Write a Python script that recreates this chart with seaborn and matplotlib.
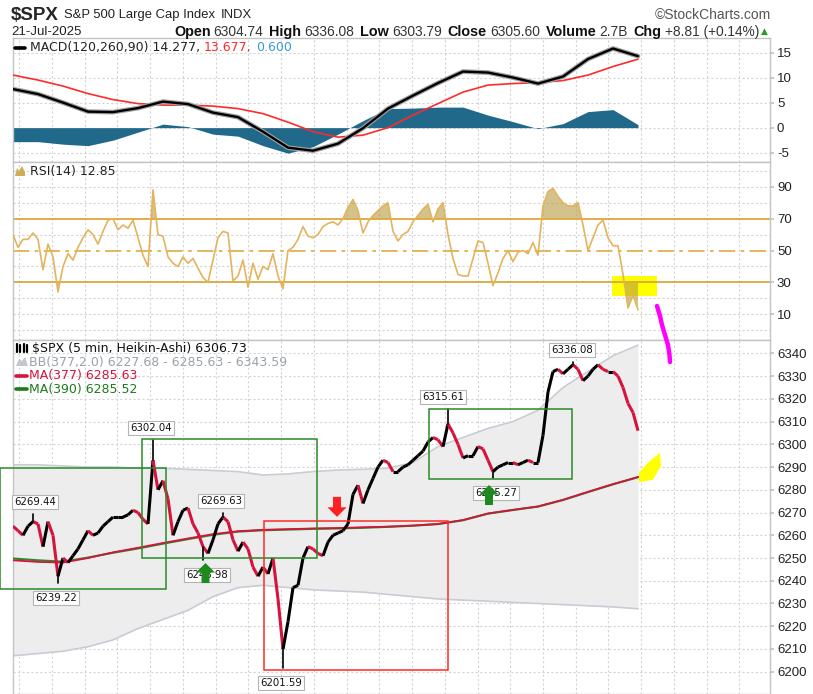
import numpy as np
import matplotlib
matplotlib.use("Agg")
import matplotlib.pyplot as plt
import seaborn as sns
import matplotlib.patheffects as pe
from matplotlib.collections import LineCollection
from matplotlib.patches import Rectangle, Polygon, FancyArrow

# ==================== DATA ====================
# 5-min Heikin-Ashi closes, one value every ~5 px of the original chart
close = [6264, 6262, 6260, 6264, 6266, 6265, 6255, 6266, 6260, 6242,
         6250, 6248, 6251, 6254, 6258, 6262, 6260, 6261, 6264, 6266,
         6268, 6268, 6268, 6269, 6271, 6270, 6267, 6265, 6293, 6280,
         6284, 6276, 6260, 6266, 6271, 6272, 6265, 6261, 6255, 6252,
         6258, 6265, 6268, 6266, 6258, 6253, 6257, 6254, 6246, 6242,
         6246, 6243, 6250, 6232, 6210, 6222, 6237, 6238, 6250, 6255,
         6254, 6252, 6251, 6257, 6260, 6261, 6262, 6265, 6278, 6282,
         6274, 6280, 6285, 6290, 6293, 6292, 6288, 6288, 6290, 6291,
         6293, 6295, 6297, 6301, 6303, 6302, 6299, 6309, 6305, 6300,
         6294, 6295, 6295, 6299, 6298, 6293, 6288, 6290, 6291, 6292,
         6292, 6291, 6292, 6293, 6292, 6292, 6304, 6323, 6332, 6333,
         6331, 6333, 6335, 6333, 6328, 6330, 6333, 6335, 6333, 6332,
         6332, 6330, 6325, 6318, 6314, 6306]

rsi = [60, 52, 57, 57, 61, 57, 38, 54, 46, 24,
       40, 48, 44, 52, 58, 63, 60, 54, 62, 69,
       70, 63, 66, 64, 69, 58, 47, 40, 88, 60,
       59, 46, 42, 40, 46, 42, 45, 39, 33, 30,
       44, 58, 62, 61, 31, 34, 44, 27, 42, 32,
       40, 38, 48, 34, 26, 50, 52, 57, 65, 59,
       58, 60, 65, 67, 68, 66, 70, 77, 82, 75,
       61, 68, 72, 75, 78, 80, 62, 56, 60, 62,
       68, 72, 76, 79, 68, 76, 80, 60, 45, 35,
       34, 34, 45, 56, 55, 42, 28, 36, 45, 50,
       43, 49, 50, 48, 55, 47, 78, 87, 89, 84,
       80, 78, 78, 80, 66, 50, 58, 66, 69, 58,
       53, 53, 35, 14, 22, 12.85]

# slower series sampled every 5 bars
slow_t = list(range(0, 126, 5))
macd = [7.7, 6.7, 5.0, 3.2, 3.1, 3.9, 5.2, 4.7, 3.0, 2.1, -0.8, -4.0, -4.6,
        -3.2, -0.1, 3.8, 6.4, 8.9, 11.2, 11.0, 10.0, 8.8, 10.2, 13.7, 15.8, 14.277]
signal = [10.5, 9.5, 8.3, 6.8, 5.6, 4.8, 4.5, 4.5, 4.3, 3.8, 2.8, 1.1, -0.8,
          -1.9, -1.5, 0.0, 2.5, 4.8, 7.1, 8.5, 8.8, 9.0, 9.4, 10.5, 12.2, 13.677]
bb_upper = [6291, 6291, 6290.5, 6290, 6290, 6289.5, 6289.5, 6289, 6288.5, 6288,
            6286.5, 6287, 6288, 6288.7, 6289, 6289.5, 6292, 6299, 6303, 6307,
            6310, 6315, 6325, 6332, 6339, 6343.59]
bb_lower = [6207, 6208, 6209, 6211, 6214, 6219, 6223, 6227, 6233, 6237,
            6238, 6237, 6236, 6235.5, 6235, 6234, 6233, 6232, 6231.5, 6231,
            6230.5, 6230, 6229.5, 6229, 6228.5, 6227.68]
ma377 = [6249.0, 6248.3, 6248.0, 6250.0, 6252.5, 6254.5, 6256.6, 6258.6, 6260.5,
         6261.8, 6262.4, 6262.7, 6263.0, 6263.2, 6263.5, 6263.8, 6264.3, 6265.0,
         6266.7, 6269.6, 6271.2, 6272.7, 6275.6, 6279.1, 6282.5, 6285.63]
ma390 = [6249.8, 6249.0, 6248.4, 6250.2, 6252.3, 6254.2, 6256.3, 6258.3, 6260.2,
         6261.6, 6262.2, 6262.5, 6262.8, 6263.0, 6263.3, 6263.7, 6264.2, 6264.9,
         6266.6, 6269.5, 6271.1, 6272.6, 6275.5, 6279.0, 6282.4, 6285.52]

# labelled highs / lows: bar, value, side
extremes = [(28, 6302.04, "up"), (4, 6269.44, "up"), (9, 6239.22, "down"),
            (42, 6269.63, "up"), (38, 6248.98, "down"), (54, 6201.59, "down"),
            (87, 6315.61, "up"), (96, 6285.27, "down"), (112, 6336.08, "up")]

# hand-drawn boxes: bar from, bar to, price low, price high, colour
boxes = [(-2.6, 30.6, 6236.3, 6289.6, "#2a8a2a"),
         (25.7, 60.7, 6250.1, 6302.2, "#2a8a2a"),
         (50.2, 86.9, 6200.7, 6266.4, "#ff2a2a"),
         (83.1, 111.7, 6284.6, 6315.5, "#2a8a2a")]
# arrows: bar, start price, price change, colour
arrows = [(64.8, 6276.9, -8.8, "#ff2020"),
          (38.5, 6239.0, 8.8, "#1e8a1e"),
          (95.2, 6273.3, 8.8, "#1e8a1e")]

# ==================== SETUP ====================
sns.set_theme(style="white")
plt.rcParams["font.family"] = ["DejaVu Sans"]

W, H = 813, 694
fig = plt.figure(figsize=(W / 100, H / 100), dpi=100)


def panel(top, bottom, left=12.5, right=770):
    return fig.add_axes([left / W, 1 - bottom / H, (right - left) / W, (bottom - top) / H])


ax_m = panel(38, 161.7)
ax_r = panel(161.7, 339.5)
ax_p = panel(339.5, 694)

bars = np.arange(len(close))
vgrid = [(19.3 + 32.73 * k - 13) / 5 for k in range(24)]
GRID = dict(color="#d4d4d4", lw=0.8, ls=(0, (2, 2)), zorder=0)


def style(ax, ylim, ticks, hgrid):
    ax.set_xlim(-0.1, 151.4)
    ax.set_ylim(*ylim)
    ax.set_xticks([])
    ax.yaxis.tick_right()
    ax.set_yticks(ticks)
    ax.set_yticklabels([str(t) for t in ticks])
    for y in hgrid:
        ax.axhline(y, **GRID)
    for x in vgrid:
        ax.axvline(x, **GRID)
    for s in ax.spines.values():
        s.set_color("#c4c4c4")
        s.set_linewidth(1)
    ax.tick_params(axis="y", length=3, color="#c4c4c4", pad=2, labelsize=9.5,
                   labelcolor="#222222")
    for lbl in ax.get_yticklabels():
        lbl.set_fontfamily("Liberation Sans")


# ==================== MACD ====================
hist = np.array(macd) - np.array(signal)
style(ax_m, (-6.8, 17.9), [-5, 0, 5, 10, 15], [-5, 0, 5, 10, 15])
ax_m.fill_between(slow_t, hist, 0, color="#21698a", lw=0, zorder=2)
sns.lineplot(x=slow_t, y=signal, ax=ax_m, color="#ff2a2a", lw=1.2, zorder=3)
sns.lineplot(x=slow_t, y=macd, ax=ax_m, color="black", lw=1.7, zorder=4,
             path_effects=[pe.Stroke(linewidth=3.4, foreground="#a0a0a0"), pe.Normal()])

# ==================== RSI ====================
r = np.array(rsi)
style(ax_r, (-5.8, 105.7), [10, 30, 50, 70, 90], [0, 10, 20, 40, 60, 80, 90, 100])
ax_r.add_patch(Rectangle((119.8, 21.5), 9.0, 12.5, color="#ffff00", lw=0, zorder=1))
ax_r.fill_between(bars, r, 70, where=r > 70, interpolate=True, color="#b89a40",
                  alpha=0.6, lw=0, zorder=2)
ax_r.fill_between(bars, r, 30, where=r < 30, interpolate=True, color="#b89a40",
                  alpha=0.6, lw=0, zorder=2)
ax_r.axhline(70, color="#dca63c", lw=1.3, zorder=2)
ax_r.axhline(30, color="#dca63c", lw=1.3, zorder=2)
ax_r.axhline(50, color="#e2b050", lw=1.3, ls=(0, (9, 3, 2, 3)), zorder=2)
sns.lineplot(x=bars, y=r, ax=ax_r, color="#e3b45c", lw=1.2, zorder=3)

# ==================== PRICE ====================
style(ax_p, (6190.2, 6346.1), list(range(6200, 6341, 10)), list(range(6200, 6341, 10)))
ax_p.fill_between(slow_t, bb_lower, bb_upper, color="#ededed", lw=0, zorder=1)
sns.lineplot(x=slow_t, y=bb_upper, ax=ax_p, color="#c8ccd4", lw=1.2, zorder=2)
sns.lineplot(x=slow_t, y=bb_lower, ax=ax_p, color="#c8ccd4", lw=1.2, zorder=2)
sns.lineplot(x=slow_t, y=ma390, ax=ax_p, color="#2a8a2a", lw=1.5, zorder=3)
sns.lineplot(x=slow_t, y=ma377, ax=ax_p, color="#d4143c", lw=1.3, zorder=3)

c = np.array(close, dtype=float)
segs = [[(i - 1, c[i - 1]), (i, c[i])] for i in range(1, len(c))]
cols = ["black" if c[i] >= c[i - 1] else "#d4143c" for i in range(1, len(c))]
ax_p.add_collection(LineCollection(segs, colors=cols, linewidths=2.2, zorder=4,
                                   capstyle="butt"))

for i, v, side in extremes:
    ax_p.plot([i, i], [c[i], v], color="black", lw=1.2, zorder=4)

for x0, x1, lo, hi, col in boxes:
    ax_p.add_patch(Rectangle((x0, lo), x1 - x0, hi - lo, fill=False, ec=col,
                             lw=1.1, zorder=5, clip_on=False))

ax_p.add_patch(Polygon([(125.2, 6287.7), (127.5, 6293.0), (129.4, 6296.2),
                        (129.6, 6290.5), (128.0, 6284.5), (125.2, 6283.3)],
                       closed=True, color="#ffff00", lw=0, zorder=6, clip_on=False))

label_dx = {6302.04: -2, 6269.44: 2, 6239.22: -2, 6269.63: -2, 6248.98: 4,
            6201.59: -2, 6315.61: -5, 6285.27: 3, 6336.08: -1}
for i, v, side in extremes:
    dy = 12 if side == "up" else -15
    ax_p.annotate(f"{v:.2f}", xy=(i, v), xytext=(label_dx[v], dy),
                  textcoords="offset pixels", ha="center", va="center",
                  fontsize=7.3, color="#111111", zorder=8, annotation_clip=False,
                  bbox=dict(boxstyle="square,pad=0.2", fc="white", ec="#b4b4b4", lw=0.8))

# arrows go over the label boxes, as in the original
for x, y, dy, col in arrows:
    ax_p.add_patch(FancyArrow(x, y, 0, dy, width=1.6, head_width=3.8, head_length=4.2,
                              length_includes_head=True, color=col, lw=0, zorder=9))

# ==================== OVERLAY (pixels) ====================
ov = fig.add_axes([0, 0, 1, 1])
ov.set_xlim(0, W)
ov.set_ylim(H, 0)
ov.axis("off")
rend = fig.canvas.get_renderer()


def text_run(x, y, pieces, right=False):
    arts = []
    for s, kw, gap in pieces:
        arts.append((ov.text(0, y, s, va="center", ha="left", **kw), gap))
    widths = [t.get_window_extent(rend).width + g for t, g in arts]
    cur = x - sum(widths) if right else x
    for (t, g), w in zip(arts, widths):
        t.set_x(cur)
        cur += w


LS = dict(family="Liberation Sans")
text_run(11, 15, [("$SPX", dict(fontsize=13.5, weight="bold", **LS), 5),
                  ("S&P 500 Large Cap Index", dict(fontsize=9.4, color="#222", **LS), 6),
                  ("INDX", dict(fontsize=9.4, color="#222", **LS), 0)])
text_run(771, 15, [("©StockCharts.com", dict(fontsize=10, color="#555", **LS), 0)], right=True)
ov.text(11.5, 31.5, "21-Jul-2025", fontsize=9.5, va="center", color="#222", **LS)

B = dict(fontsize=10.4, weight="bold", color="#111", **LS)
N = dict(fontsize=9.9, color="#333", **LS)
text_run(768, 31.5, [("Open", B, 3), ("6304.74", N, 6), ("High", B, 3), ("6336.08", N, 6),
                     ("Low", B, 3), ("6303.79", N, 6), ("Close", B, 3), ("6305.60", N, 6),
                     ("Volume", B, 3), ("2.7B", N, 6), ("Chg", B, 3), ("+8.81 (+0.14%)", N, 2),
                     ("▲", dict(fontsize=6.5, color="#2a9a2a", family="DejaVu Sans"), 0)],
         right=True)

# MACD legend
ov.plot([15, 25], [47.5, 47.5], color="black", lw=2.6)
text_run(30, 47.5, [("MACD(120,260,90) 14.277,", dict(fontsize=9, color="#222"), 4),
                    ("13.677,", dict(fontsize=9, color="#ff2a2a"), 4),
                    ("0.600", dict(fontsize=9, color="#3a9ad9"), 0)])

# RSI legend
ov.add_patch(Polygon([(15, 176), (17, 168), (19, 171), (22, 166), (25, 172), (25, 176)],
                     closed=True, color="#cfae5a", lw=0))
ov.text(30, 171.5, "RSI(14) 12.85", fontsize=9, va="center", color="#222")

# price legend
for k, xx in enumerate([16.5, 20, 23.5, 27]):
    ov.plot([xx, xx], [344 + (k % 2), 352], color="black", lw=1.6)
ov.text(32, 348.5, "$SPX (5 min, Heikin-Ashi) 6306.73", fontsize=9, va="center", color="#111")
ov.add_patch(Polygon([(16, 366), (19, 359), (22, 361), (25, 357), (28, 366)],
                     closed=True, color="#c4c8cc", lw=0))
ov.text(29, 362, "BB(377,2.0) 6227.68 - 6285.63 - 6343.59", fontsize=9, va="center",
        color="#9aa2ac")
ov.plot([16, 27], [375.5, 375.5], color="#d4143c", lw=2.6)
ov.text(29, 375.5, "MA(377) 6285.63", fontsize=9, va="center", color="#d4143c")
ov.plot([16, 27], [389, 389], color="#1e7a1e", lw=2.6)
ov.text(29, 389, "MA(390) 6285.52", fontsize=9, va="center", color="#1e7a1e")

# magenta pen stroke across RSI / price panels
ov.plot([657, 660, 662, 665, 668, 669.5, 670], [306, 316, 325, 335, 345, 355, 362],
        color="#ff00ff", lw=3.2, solid_capstyle="round")

fig.savefig("out.png", dpi=100)
